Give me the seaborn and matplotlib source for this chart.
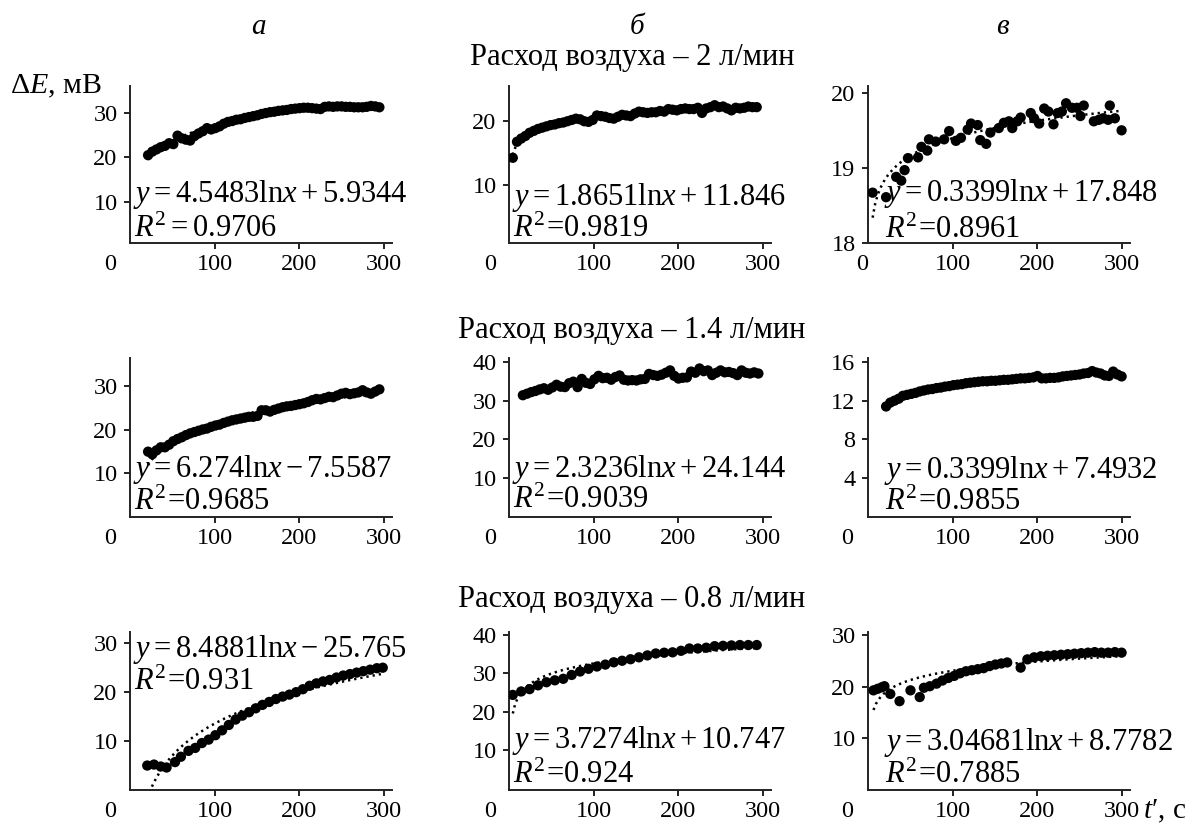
import numpy as np
import pandas as pd
import matplotlib
matplotlib.use("Agg")
import matplotlib.pyplot as plt
import seaborn as sns

# ---------------- data ----------------
col_headers = ["а", "б", "в"]
row_titles = ["Расход воздуха – 2 л/мин", "Расход воздуха – 1.4 л/мин", "Расход воздуха – 0.8 л/мин"]
x_ticks = [100, 200, 300]

# row 1 (2 l/min)
t_1a = list(range(20, 300, 5))
e_1a = [20.5, 21.3, 21.8, 22.3, 22.6, 23.2, 23.0, 24.9, 24.3, 24.0,
        23.8, 24.8, 25.4, 25.9, 26.6, 26.3, 26.6, 27.0, 27.6, 28.0,
        28.2, 28.5, 28.6, 28.9, 29.1, 29.3, 29.5, 29.8, 30.0, 30.2,
        30.3, 30.5, 30.6, 30.7, 30.9, 31.0, 31.1, 31.2, 31.2, 31.1,
        31.0, 30.9, 31.4, 31.5, 31.4, 31.5, 31.5, 31.4, 31.4, 31.3,
        31.3, 31.3, 31.4, 31.6, 31.5, 31.3]
t_1b = list(range(3, 298, 5))
e_1b = [14.3, 16.8, 17.3, 17.7, 18.2, 18.5, 18.8, 19.0, 19.2, 19.4,
        19.5, 19.7, 19.8, 20.0, 20.2, 20.4, 20.3, 20.0, 19.9, 20.2,
        20.9, 20.8, 20.7, 20.5, 20.4, 20.7, 21.0, 20.9, 20.8, 21.2,
        21.5, 21.4, 21.3, 21.4, 21.4, 21.6, 21.5, 21.9, 21.8, 21.7,
        21.9, 22.0, 21.9, 21.9, 22.1, 21.3, 22.0, 22.2, 22.5, 22.2,
        22.3, 22.0, 21.7, 22.1, 22.0, 22.1, 22.3, 22.2, 22.2]
t_1c = [4, 20, 32, 38, 42, 46, 58, 62, 69, 71,
        79, 89, 95, 103, 109, 117, 121, 129, 132, 139,
        144, 154, 160, 166, 170, 176, 180, 192, 196, 202,
        208, 213, 219, 224, 229, 234, 241, 247, 251, 255,
        267, 273, 278, 284, 286, 292, 300]
e_1c = [18.67, 18.61, 18.88, 18.83, 18.97, 19.13, 19.14, 19.28, 19.23, 19.38,
        19.35, 19.38, 19.49, 19.36, 19.40, 19.51, 19.59, 19.57, 19.37, 19.32,
        19.47, 19.53, 19.60, 19.62, 19.53, 19.62, 19.67, 19.73, 19.66, 19.59,
        19.79, 19.75, 19.58, 19.73, 19.75, 19.86, 19.80, 19.80, 19.69, 19.83,
        19.62, 19.64, 19.66, 19.64, 19.83, 19.66, 19.50]

# row 2 (1.4 l/min)
t_2a = list(range(20, 300, 5))
e_2a = [15.0, 14.4, 15.3, 16.0, 16.0, 16.6, 17.4, 17.9, 18.3, 18.8,
        19.2, 19.5, 19.8, 20.1, 20.3, 20.7, 21.0, 21.2, 21.6, 21.9,
        22.2, 22.4, 22.6, 22.8, 23.0, 23.0, 23.2, 24.5, 24.5, 24.2,
        24.6, 24.9, 25.2, 25.4, 25.5, 25.7, 25.9, 26.1, 26.4, 26.8,
        27.1, 27.0, 27.3, 27.6, 27.5, 27.9, 28.3, 28.5, 28.2, 28.4,
        28.6, 29.1, 28.6, 28.3, 28.8, 29.3]
t_2b = list(range(15, 300, 5))
e_2b = [31.4, 31.8, 32.2, 32.5, 32.9, 33.2, 32.8, 33.4, 34.1, 33.6,
        33.5, 34.5, 34.9, 33.5, 35.6, 34.6, 34.3, 35.5, 36.4, 35.8,
        35.9, 35.4, 36.1, 36.5, 35.4, 35.2, 35.3, 35.2, 35.5, 35.6,
        36.9, 36.6, 36.4, 36.7, 37.2, 37.8, 36.4, 35.7, 35.9, 36.0,
        37.5, 37.2, 38.3, 37.6, 37.8, 36.6, 37.2, 37.8, 37.3, 37.4,
        37.1, 36.6, 37.8, 37.2, 37.0, 37.3, 37.0]
t_2c = list(range(20, 305, 5))
e_2c = [11.4, 11.8, 12.0, 12.2, 12.5, 12.6, 12.7, 12.8, 12.95, 13.05,
        13.15, 13.2, 13.3, 13.35, 13.45, 13.5, 13.6, 13.65, 13.7, 13.8,
        13.85, 13.9, 13.95, 14.0, 14.0, 14.05, 14.05, 14.1, 14.15, 14.15,
        14.2, 14.25, 14.3, 14.3, 14.35, 14.4, 14.55, 14.3, 14.3, 14.35,
        14.35, 14.4, 14.5, 14.55, 14.6, 14.65, 14.7, 14.8, 14.85, 15.05,
        14.9, 14.8, 14.6, 14.55, 15.0, 14.7, 14.5]

# row 3 (0.8 l/min)
t_3a = [19, 27, 35, 42, 52, 59, 68, 76, 84, 92,
        100, 108, 116, 124, 132, 140, 148, 156, 164, 172,
        180, 188, 196, 204, 212, 220, 228, 236, 244, 252,
        260, 268, 276, 284, 292, 299]
e_3a = [5.0, 5.2, 4.8, 4.6, 5.7, 6.8, 8.0, 8.6, 9.6, 10.3,
        11.2, 12.2, 13.3, 14.4, 15.2, 15.9, 16.7, 17.4, 18.0, 18.6,
        19.1, 19.5, 20.0, 20.6, 21.3, 21.8, 22.2, 22.5, 23.0, 23.4,
        23.7, 24.0, 24.3, 24.6, 24.9, 25.0]
t_3b = list(range(3, 300, 10))
e_3b = [24.4, 25.3, 25.9, 26.9, 27.7, 28.2, 28.6, 29.6, 30.5, 31.2,
        31.8, 32.3, 32.9, 33.3, 33.7, 34.2, 34.7, 35.2, 35.4, 35.5,
        35.9, 36.5, 36.5, 36.7, 37.1, 37.2, 37.3, 37.4, 37.4, 37.4]
t_3c = [5, 10, 15, 18, 25, 36, 49, 60, 65, 72,
        80, 87, 94, 101, 108, 115, 122, 129, 136, 143,
        150, 157, 164, 180, 188, 196, 204, 212, 220, 228,
        236, 244, 252, 260, 268, 276, 284, 292, 300]
e_3c = [19.3, 19.6, 19.9, 20.1, 18.6, 17.2, 19.3, 18.0, 19.8, 20.1,
        20.6, 21.2, 21.7, 22.1, 22.6, 23.0, 23.2, 23.4, 23.6, 24.0,
        24.3, 24.5, 24.7, 23.7, 25.3, 25.7, 25.9, 26.0, 26.1, 26.2,
        26.3, 26.4, 26.5, 26.6, 26.7, 26.6, 26.6, 26.7, 26.6]

eq_lines = [
    (r"$y = 4.5483\mathrm{ln}x + 5.9344$", r"$R^2 = 0.9706$"),
    (r"$y = 1.8651\mathrm{ln}x + 11.846$", r"$R^2\!=\!0.9819$"),
    (r"$y = 0.3399\mathrm{ln}x + 17.848$", r"$R^2\!=\!0.8961$"),
    (r"$y = 6.274\mathrm{ln}x - 7.5587$", r"$R^2\!=\!0.9685$"),
    (r"$y = 2.3236\mathrm{ln}x + 24.144$", r"$R^2\!=\!0.9039$"),
    (r"$y = 0.3399\mathrm{ln}x + 7.4932$", r"$R^2\!=\!0.9855$"),
    (r"$y = 8.4881\mathrm{ln}x - 25.765$", r"$R^2\!=\!0.931$"),
    (r"$y = 3.7274\mathrm{ln}x + 10.747$", r"$R^2\!=\!0.924$"),
    (r"$y = 3.04681\mathrm{ln}x + 8.7782$", r"$R^2\!=\!0.7885$"),
]
y_limits = [(0.7, 36.1), (1.0, 25.5), (18.0, 20.09),
            (0.0, 36.5), (0.0, 41.0), (0.0, 16.4),
            (0.0, 32.3), (-0.4, 40.8), (0.0, 30.6)]
y_ticks = [[10, 20, 30], [10, 20], [18, 19, 20],
           [10, 20, 30], [10, 20, 30, 40], [4, 8, 12, 16],
           [10, 20, 30], [10, 20, 30, 40], [10, 20, 30]]
series_t = [t_1a, t_1b, t_1c, t_2a, t_2b, t_2c, t_3a, t_3b, t_3c]
series_e = [e_1a, e_1b, e_1c, e_2a, e_2b, e_2c, e_3a, e_3b, e_3c]

# ---------------- style ----------------
sns.set_theme(style="ticks")
plt.rcParams.update({
    "font.family": ["Liberation Serif", "DejaVu Serif"],
    "mathtext.fontset": "custom",
    "mathtext.rm": "Liberation Serif",
    "mathtext.it": "Liberation Serif:italic",
    "mathtext.bf": "Liberation Serif:bold",
    "text.color": "black",
    "axes.labelcolor": "black",
    "axes.edgecolor": "#222222",
    "axes.linewidth": 1.4,
    "xtick.color": "#222222", "ytick.color": "#222222",
    "xtick.labelcolor": "black", "ytick.labelcolor": "black",
    "xtick.major.size": 4, "ytick.major.size": 4,
    "xtick.major.width": 1.4, "ytick.major.width": 1.4,
    "xtick.major.pad": 4, "ytick.major.pad": 5,
    "xtick.labelsize": 17.5, "ytick.labelsize": 17.5,
    "axes.facecolor": "white", "figure.facecolor": "white",
})

W, H = 1202, 825
fig = plt.figure(figsize=(W / 100, H / 100), dpi=100)

col_left = [130, 509, 868]
col_w = 262
row_top = [86, 358, 632]
row_bot = [243, 517, 790]

eq_x = [0.012, 0.012, 0.062]
eq_y = [(0.262, 0.038), (0.245, 0.040), (0.266, 0.030),
        (0.250, 0.046), (0.250, 0.055), (0.245, 0.046),
        (0.840, 0.630), (0.266, 0.044), (0.255, 0.045)]
zero_dx = [-20, -19, -6, -20, -19, -21, -20, -19, -21]
dotted = (0, (0.9, 1.6))

for i in range(9):
    r, c = divmod(i, 3)
    left = col_left[c] / W
    bottom = 1 - row_bot[r] / H
    height = (row_bot[r] - row_top[r]) / H
    ax = fig.add_axes([left, bottom, col_w / W, height])

    df = pd.DataFrame({"t": series_t[i], "e": series_e[i]})
    # logarithmic trend line fitted by seaborn
    sns.regplot(data=df, x="t", y="e", ax=ax, logx=True, scatter=False, ci=None,
                color="black", line_kws=dict(lw=1.8, linestyle=dotted, zorder=2))
    sns.scatterplot(data=df, x="t", y="e", ax=ax, color="black", s=55,
                    edgecolor="none", linewidth=0, zorder=3)

    ax.set_xlim(-1.5, 310)
    ax.set_ylim(*y_limits[i])
    ax.set_xticks(x_ticks)
    ax.set_xticklabels([str(v) for v in x_ticks])
    ax.set_yticks(y_ticks[i])
    ax.set_yticklabels([str(v) for v in y_ticks[i]])
    ax.set_xlabel("")
    ax.set_ylabel("")
    ax.grid(False)
    sns.despine(ax=ax)

    ax.annotate("0", xy=(0, 0), xycoords="axes fraction",
                xytext=(zero_dx[i], -8 * 100 / 72), textcoords="offset pixels",
                ha="center", va="top", fontsize=17.5)

    l1, l2 = eq_lines[i]
    ax.text(eq_x[c], eq_y[i][0], l1, transform=ax.transAxes, fontsize=22,
            ha="left", va="baseline", zorder=5)
    ax.text(eq_x[c] + 0.004, eq_y[i][1], l2, transform=ax.transAxes, fontsize=22,
            ha="left", va="baseline", zorder=5)

for x, s in zip([258, 637, 1002], col_headers):
    fig.text(x / W, 1 - 34 / H, s, style="italic", fontsize=21,
             ha="center", va="baseline")

for yb, s in zip([65, 338, 607], row_titles):
    fig.text(632 / W, 1 - yb / H, s, fontsize=22, ha="center", va="baseline")

fig.text(10 / W, 1 - 93 / H, r"Δ$E$, мВ", fontsize=21.5, ha="left", va="baseline")
fig.text(1143 / W, 1 - 818 / H, r"$t$′, с", fontsize=21, ha="left", va="baseline")

fig.savefig("out.png", dpi=100)
